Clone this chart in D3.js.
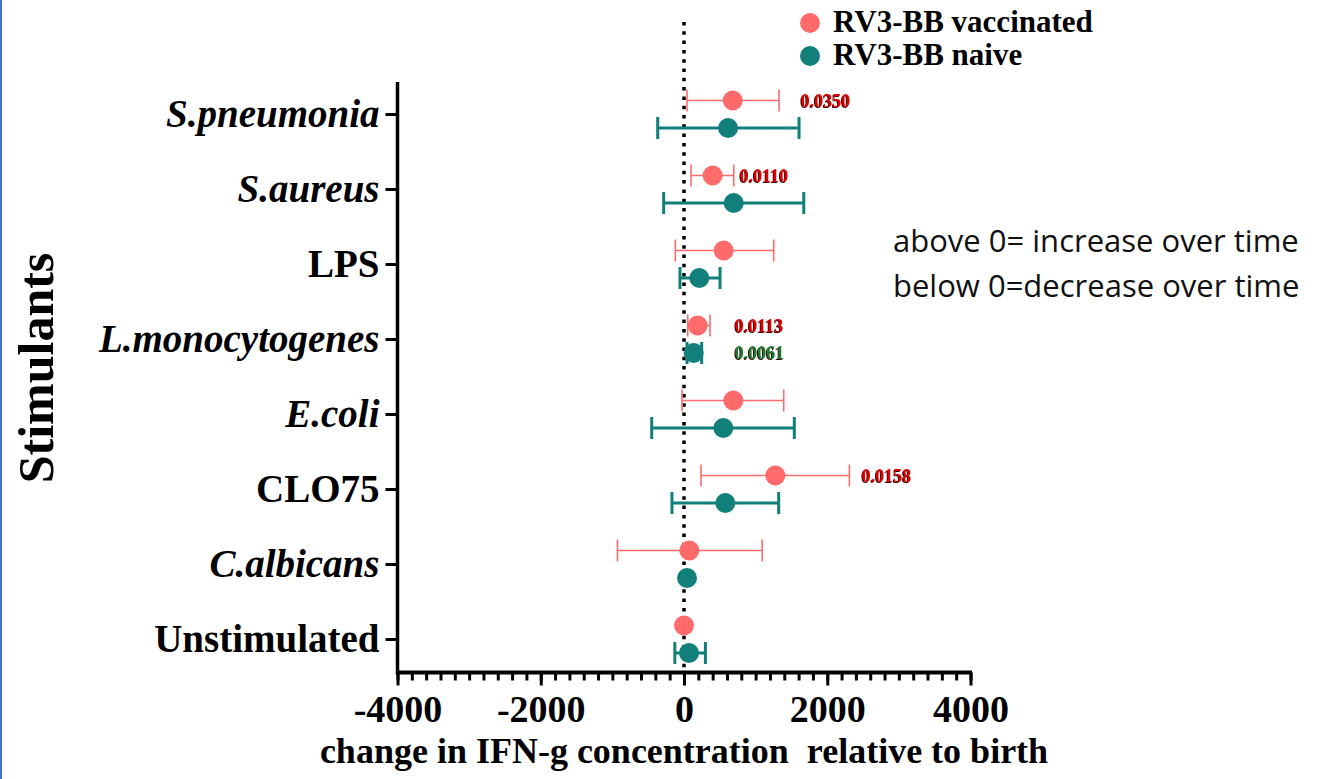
<!DOCTYPE html>
<html>
<head>
<meta charset="utf-8">
<script src="https://cdn.jsdelivr.net/npm/d3@7"></script>
<style>
  body { margin: 0; background: #fff; }
  svg { display: block; }
</style>
</head>
<body>
<svg id="chart"></svg>
<script>
// Stimulant categories, top to bottom
const categories = ['S.pneumonia', 'S.aureus', 'LPS', 'L.monocytogenes', 'E.coli', 'CLO75', 'C.albicans', 'Unstimulated'];
const italicLabels = ['S.pneumonia', 'S.aureus', 'L.monocytogenes', 'E.coli', 'C.albicans'];

// RV3-BB vaccinated: mean and error range
const vaccMean = [680, 400, 554, 191, 689, 1275, 74, 0];
const vaccLow  = [42, 98, -121, 52, -28, 237, -929, 0];
const vaccHigh = [1327, 694, 1252, 363, 1392, 2309, 1092, 0];

// RV3-BB naive: mean and error range
const naiveMean = [615, 694, 214, 135, 549, 577, 42, 70];
const naiveLow  = [-367, -284, -56, 42, -451, -168, 42, -128];
const naiveHigh = [1606, 1672, 503, 247, 1540, 1322, 42, 299];

const xTicks = [-4000, -2000, 0, 2000, 4000];

// p-value annotations: category, series, x position (data units)
const pLabels = ['0.0350', '0.0110', '0.0113', '0.0061', '0.0158'];
const pCategory = ['S.pneumonia', 'S.aureus', 'L.monocytogenes', 'L.monocytogenes', 'CLO75'];
const pSeries = ['vacc', 'vacc', 'vacc', 'naive', 'vacc'];
const pX = [1630, 780, 710, 710, 2480];

const width = 1326, height = 779;
const vaccColor = '#ff6b6b';
const naiveColor = '#117f7a';
const serif = '"Liberation Serif", "Times New Roman", serif';

const svg = d3.select('#chart')
  .attr('width', width)
  .attr('height', height)
  .style('background', '#fff');

// drop shadow used by the p-value text
const defs = svg.append('defs');
defs.append('filter')
  .attr('id', 'pshadow')
  .append('feDropShadow')
  .attr('dx', -1).attr('dy', 1)
  .attr('stdDeviation', 0)
  .attr('flood-color', '#300000');

// thin blue border at the far left
svg.append('line')
  .attr('x1', 1).attr('x2', 1)
  .attr('y1', 0).attr('y2', height)
  .attr('stroke', '#4472c4')
  .attr('stroke-width', 2);

const plotTop = 82, plotBottom = 672.5;

const x = d3.scaleLinear()
  .domain([-4000, 4000])
  .range([397.5, 970.5]);

const y = d3.scalePoint()
  .domain(categories)
  .range([114, 639]);

const offset = { vacc: -13.5, naive: 14 };

// Y axis
const yAxis = svg.append('g')
  .attr('transform', `translate(${x.range()[0]},0)`)
  .call(d3.axisLeft(y).tickSize(12).tickPadding(6).tickSizeOuter(0));
yAxis.select('.domain').remove();
yAxis.selectAll('.tick line').attr('stroke', '#000').attr('stroke-width', 3);
yAxis.selectAll('.tick text')
  .attr('fill', '#000')
  .attr('dy', '0.32em')
  .style('font-family', serif)
  .style('font-weight', 'bold')
  .style('font-size', '39px')
  .style('font-style', d => italicLabels.includes(d) ? 'italic' : 'normal');

svg.append('line')
  .attr('x1', x.range()[0]).attr('x2', x.range()[0])
  .attr('y1', plotTop).attr('y2', plotBottom + 2)
  .attr('stroke', '#000')
  .attr('stroke-width', 3.5);

// X axis: minor ticks every 200, major every 2000
const xMinor = svg.append('g')
  .attr('transform', `translate(0,${plotBottom})`)
  .call(d3.axisBottom(x).tickValues(d3.range(-4000, 4001, 200)).tickSize(8).tickFormat(''));
xMinor.select('.domain').remove();
xMinor.selectAll('.tick line').attr('stroke', '#000').attr('stroke-width', 3);

const xAxis = svg.append('g')
  .attr('transform', `translate(0,${plotBottom})`)
  .call(d3.axisBottom(x).tickValues(xTicks).tickSize(13).tickPadding(10));
xAxis.select('.domain').remove();
xAxis.selectAll('.tick line').attr('stroke', '#000').attr('stroke-width', 3);
xAxis.selectAll('.tick text')
  .attr('fill', '#000')
  .style('font-family', serif)
  .style('font-weight', 'bold')
  .style('font-size', '38px')
  .text(d => d < 0 ? '-' + Math.abs(d) : d);

svg.append('line')
  .attr('x1', x.range()[0] - 1.5).attr('x2', x.range()[1] + 1.5)
  .attr('y1', plotBottom).attr('y2', plotBottom)
  .attr('stroke', '#000')
  .attr('stroke-width', 4);

// Axis titles
svg.append('text')
  .attr('x', (x.range()[0] + x.range()[1]) / 2)
  .attr('y', 763)
  .attr('text-anchor', 'middle')
  .style('font-family', serif)
  .style('font-weight', 'bold')
  .style('font-size', '36px')
  .style('white-space', 'pre')
  .text('change in IFN-g concentration  relative to birth');

svg.append('text')
  .attr('transform', 'translate(53,368) rotate(-90)')
  .attr('text-anchor', 'middle')
  .style('font-family', serif)
  .style('font-weight', 'bold')
  .style('font-size', '50px')
  .text('Stimulants');

// Dotted zero line
svg.append('line')
  .attr('x1', x(0)).attr('x2', x(0))
  .attr('y1', 22).attr('y2', plotBottom)
  .attr('stroke', '#000')
  .attr('stroke-width', 3.5)
  .attr('stroke-dasharray', '3.5,5.8');

// Error bars and points for each series
const series = [
  { key: 'vacc', color: vaccColor, mean: vaccMean, low: vaccLow, high: vaccHigh, sw: 1.6 },
  { key: 'naive', color: naiveColor, mean: naiveMean, low: naiveLow, high: naiveHigh, sw: 3 }
];

series.forEach(s => {
  const rows = categories.map((c, i) => ({ c, mean: s.mean[i], low: s.low[i], high: s.high[i] }));
  const g = svg.append('g').attr('class', 'series-' + s.key);
  const bars = rows.filter(d => d.high > d.low);

  g.selectAll('line.bar')
    .data(bars)
    .join('line')
    .attr('class', 'bar')
    .attr('x1', d => x(d.low)).attr('x2', d => x(d.high))
    .attr('y1', d => y(d.c) + offset[s.key]).attr('y2', d => y(d.c) + offset[s.key])
    .attr('stroke', s.color)
    .attr('stroke-width', s.sw);

  ['low', 'high'].forEach(k => {
    g.selectAll('line.cap-' + k)
      .data(bars)
      .join('line')
      .attr('class', 'cap-' + k)
      .attr('x1', d => x(d[k])).attr('x2', d => x(d[k]))
      .attr('y1', d => y(d.c) + offset[s.key] - 11)
      .attr('y2', d => y(d.c) + offset[s.key] + 11)
      .attr('stroke', s.color)
      .attr('stroke-width', s.sw);
  });

  g.selectAll('circle')
    .data(rows)
    .join('circle')
    .attr('cx', d => x(d.mean))
    .attr('cy', d => y(d.c) + offset[s.key])
    .attr('r', 10)
    .attr('fill', s.color);
});

// p-value labels
svg.append('g')
  .selectAll('text')
  .data(pLabels.map((t, i) => ({ t, c: pCategory[i], s: pSeries[i], x: pX[i] })))
  .join('text')
  .attr('x', d => x(d.x))
  .attr('y', d => y(d.c) + offset[d.s])
  .attr('dy', '0.35em')
  .attr('fill', d => d.s === 'naive' ? '#1e7a32' : '#e00000')
  .attr('filter', 'url(#pshadow)')
  .style('font-family', serif)
  .style('font-weight', 'bold')
  .style('font-size', '18px')
  .text(d => d.t);

// Legend
const legend = svg.append('g').attr('transform', 'translate(810,23)');
const legendItems = [
  { label: 'RV3-BB vaccinated', color: vaccColor },
  { label: 'RV3-BB naive', color: naiveColor }
];
const li = legend.selectAll('g')
  .data(legendItems)
  .join('g')
  .attr('transform', (d, i) => `translate(0,${i * 33})`);
li.append('circle').attr('r', 10).attr('fill', d => d.color);
li.append('text')
  .attr('x', 23)
  .attr('y', 9)
  .style('font-family', serif)
  .style('font-weight', 'bold')
  .style('font-size', '31px')
  .text(d => d.label);

// Note on the right
const note = ['above 0= increase over time', 'below 0=decrease over time'];
svg.append('g')
  .selectAll('text')
  .data(note)
  .join('text')
  .attr('x', 893)
  .attr('y', (d, i) => 252 + i * 45)
  .style('font-family', '"Open Sans", "Noto Sans", sans-serif')
  .style('font-size', '31px')
  .attr('fill', '#111')
  .text(d => d);
</script>
</body>
</html>
